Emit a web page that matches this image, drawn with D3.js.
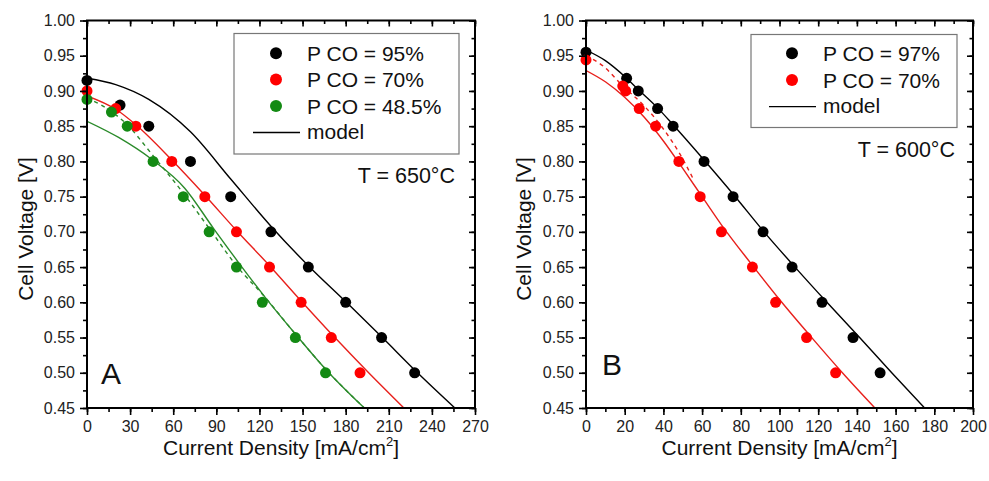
<!DOCTYPE html>
<html><head><meta charset="utf-8">
<script src="https://cdn.jsdelivr.net/npm/d3@7"></script>
<style>
body{margin:0;background:#fff}
svg{font-family:"Liberation Sans",Arial,sans-serif}
</style>
</head><body>
<svg id="chart" width="989" height="481"></svg>
<script>
// ---------- tick labels ----------
const yTicks = [0.45,0.50,0.55,0.60,0.65,0.70,0.75,0.80,0.85,0.90,0.95,1.00];
const leftXTicks = [0,30,60,90,120,150,180,210,240,270];
const rightXTicks = [0,20,40,60,80,100,120,140,160,180,200];

// ---------- Panel A (650 °C) measured points ----------
const a95I  = [0,23,43,72,100,128,154,180,205,228];
const a95V  = [0.915,0.88,0.85,0.80,0.75,0.70,0.65,0.60,0.55,0.50];
const a70I  = [0,20,34,59,82,104,127,149,170,190];
const a70V  = [0.90,0.875,0.85,0.80,0.75,0.70,0.65,0.60,0.55,0.50];
const a48I  = [0,17,28,46,67,85,104,122,145,166];
const a48V  = [0.888,0.87,0.85,0.80,0.75,0.70,0.65,0.60,0.55,0.50];
// Panel A model curves
const aM95I = [0,20,43,72,100,128,154,180,205,230,256];
const aM95V = [0.918,0.909,0.888,0.842,0.775,0.708,0.652,0.601,0.551,0.500,0.45];
const aM70I = [0,20,34,59,82,104,127,149,172,196,220.5];
const aM70V = [0.893,0.874,0.852,0.802,0.752,0.702,0.652,0.602,0.551,0.50,0.45];
const aM48I = [0,22,45,68,88,106,124,145,167,193];
const aM48V = [0.857,0.834,0.803,0.762,0.705,0.655,0.607,0.555,0.503,0.45];
const aD48I = [0,10,28,46,67,85,104,124,145,167,193];
const aD48V = [0.890,0.880,0.852,0.808,0.755,0.705,0.652,0.607,0.555,0.503,0.45];

// ---------- Panel B (600 °C) measured points ----------
const b97I  = [0,21,27,37,45,61,76,91.5,106.5,122,138,152];
const b97V  = [0.955,0.918,0.90,0.875,0.85,0.80,0.75,0.70,0.65,0.60,0.55,0.50];
const b70I  = [0,19,20.5,27.5,36,48,59,70,86,98,114,129];
const b70V  = [0.944,0.907,0.90,0.875,0.85,0.80,0.75,0.70,0.65,0.60,0.55,0.50];
// Panel B model curves
const bM97I = [0,10,21,27,37,45,61,76.5,92,108,124.5,141.4,158,175];
const bM97V = [0.958,0.943,0.918,0.902,0.876,0.852,0.802,0.752,0.70,0.65,0.60,0.55,0.50,0.45];
const bM70I = [0,10,20,30,40,50,60,70,85,100,116,132.5,149.3];
const bM70V = [0.929,0.913,0.891,0.863,0.829,0.790,0.750,0.710,0.656,0.604,0.552,0.500,0.45];
const bD70I = [0,9,19,30,40,48,56];
const bD70V = [0.950,0.935,0.907,0.879,0.846,0.813,0.772];

// ---------- styling ----------
const BLACK = "#000000", RED = "#ff0000", GREEN = "#138a13";
const LRED = "#e8201c", LGREEN = "#2b8b2b";

const zip = (I,V) => I.map((d,i)=>({i:d,v:V[i]}));

const panels = [
  {
    x0:87, x1:475, xmax:270, xTicks:leftXTicks, letter:"A", letterX:101, letterY:384,
    temp:"T = 650°C", tempX:455, tempY:183,
    legend:{x:234,y:33.5,w:225,h:120.5, mx:276, tx:307, rows:[53.3,79.5,106], lineY:132.5},
    series:[
      {name:"P CO = 95%", color:BLACK, pts:zip(a95I,a95V)},
      {name:"P CO = 70%", color:RED, pts:zip(a70I,a70V)},
      {name:"P CO = 48.5%", color:GREEN, pts:zip(a48I,a48V)}
    ],
    lines:[
      {color:BLACK, pts:zip(aM95I,aM95V)},
      {color:LRED, pts:zip(aM70I,aM70V)},
      {color:LGREEN, pts:zip(aM48I,aM48V)},
      {color:LGREEN, pts:zip(aD48I,aD48V), dash:"4,4"}
    ],
    ytitleX:33
  },
  {
    x0:586, x1:973, xmax:200, xTicks:rightXTicks, letter:"B", letterX:602, letterY:375,
    temp:"T = 600°C", tempX:955, tempY:157,
    legend:{x:751,y:34.5,w:206,h:93, mx:792, tx:823, rows:[53.3,80], lineY:106.7},
    series:[
      {name:"P CO = 97%", color:BLACK, pts:zip(b97I,b97V)},
      {name:"P CO = 70%", color:RED, pts:zip(b70I,b70V)}
    ],
    lines:[
      {color:BLACK, pts:zip(bM97I,bM97V)},
      {color:LRED, pts:zip(bM70I,bM70V)},
      {color:LRED, pts:zip(bD70I,bD70V), dash:"4,4"}
    ],
    ytitleX:531
  }
];

const svg = d3.select("#chart");
const Y0 = 20.5, Y1 = 408;

panels.forEach((p,pi) => {
  const x = d3.scaleLinear().domain([0,p.xmax]).range([p.x0,p.x1]);
  const y = d3.scaleLinear().domain([0.45,1.00]).range([Y1,Y0]);
  const g = svg.append("g");

  const clipId = "clip"+pi;
  svg.append("clipPath").attr("id",clipId).append("rect")
    .attr("x",p.x0).attr("y",Y0).attr("width",p.x1-p.x0).attr("height",Y1-Y0);

  // model lines
  const line = d3.line().x(d=>x(d.i)).y(d=>y(d.v)).curve(d3.curveMonotoneX);
  p.lines.forEach(L => {
    g.append("path").attr("d",line(L.pts)).attr("fill","none")
      .attr("stroke",L.color).attr("stroke-width",1.4)
      .attr("stroke-dasharray",L.dash||null)
      .attr("clip-path",`url(#${clipId})`);
  });

  // points
  p.series.forEach(s => {
    g.selectAll(null).data(s.pts).enter().append("circle")
      .attr("cx",d=>x(d.i)).attr("cy",d=>y(d.v)).attr("r",5.5)
      .attr("fill",s.color);
  });

  // axes
  const xMinor = d3.range(0,p.xmax+0.001,p.xTicks[1]/2);
  const yMinor = d3.range(0.45,1.0001,0.025);
  const bottom = d3.axisBottom(x).tickValues(p.xTicks).tickFormat(d3.format("d")).tickSize(7).tickPadding(6);
  const left = d3.axisLeft(y).tickValues(yTicks).tickFormat(d3.format(".2f")).tickSize(7).tickPadding(5);
  g.append("g").attr("transform",`translate(0,${Y1})`).call(bottom);
  g.append("g").attr("transform",`translate(${p.x0},0)`).call(left);
  g.append("g").attr("transform",`translate(0,${Y0})`).call(d3.axisBottom(x).tickValues(p.xTicks).tickSize(6).tickFormat(""));
  g.append("g").attr("transform",`translate(${p.x1},0)`).call(d3.axisLeft(y).tickValues(yTicks).tickSize(6).tickFormat(""));
  // minor ticks
  g.append("g").attr("transform",`translate(0,${Y1})`).call(d3.axisBottom(x).tickValues(xMinor).tickSize(4).tickFormat(""));
  g.append("g").attr("transform",`translate(0,${Y0})`).call(d3.axisBottom(x).tickValues(xMinor).tickSize(3.5).tickFormat(""));
  g.append("g").attr("transform",`translate(${p.x0},0)`).call(d3.axisLeft(y).tickValues(yMinor).tickSize(4).tickFormat(""));
  g.append("g").attr("transform",`translate(${p.x1},0)`).call(d3.axisLeft(y).tickValues(yMinor).tickSize(3.5).tickFormat(""));
  g.selectAll(".domain").remove();
  g.selectAll(".tick line").attr("stroke","#000").attr("stroke-width",1.6);
  g.selectAll(".tick text").attr("font-size",16).attr("fill","#222")
    .attr("font-family",'"Liberation Sans",Arial,sans-serif');
  // frame
  g.append("rect").attr("x",p.x0).attr("y",Y0).attr("width",p.x1-p.x0).attr("height",Y1-Y0)
    .attr("fill","none").attr("stroke","#000").attr("stroke-width",2);

  // axis titles
  const xt = g.append("text").attr("x",(p.x0+p.x1)/2).attr("y",455)
    .attr("text-anchor","middle").attr("font-size",21).attr("fill","#111");
  xt.append("tspan").text("Current Density [mA/cm");
  xt.append("tspan").text("2").attr("font-size",13).attr("dy",-9);
  xt.append("tspan").text("]").attr("dy",9);
  g.append("text").attr("transform",`translate(${p.ytitleX},229) rotate(-90)`)
    .attr("text-anchor","middle").attr("font-size",21).attr("fill","#111").text("Cell Voltage [V]");

  // panel letter and temperature
  g.append("text").attr("x",p.letterX).attr("y",p.letterY).attr("font-size",30).attr("fill","#111").text(p.letter);
  g.append("text").attr("x",p.tempX).attr("y",p.tempY).attr("text-anchor","end").attr("font-size",21.5).attr("fill","#111").text(p.temp);

  // legend
  const L = p.legend;
  g.append("rect").attr("x",L.x).attr("y",L.y).attr("width",L.w).attr("height",L.h)
    .attr("fill","#fff").attr("stroke","#777").attr("stroke-width",1.2);
  p.series.forEach((s,k) => {
    g.append("circle").attr("cx",L.mx).attr("cy",L.rows[k]).attr("r",6).attr("fill",s.color);
    g.append("text").attr("x",L.tx).attr("y",L.rows[k]+7.5).attr("font-size",21).attr("fill","#111").text(s.name);
  });
  g.append("line").attr("x1",L.mx-23).attr("x2",L.mx+24).attr("y1",L.lineY).attr("y2",L.lineY)
    .attr("stroke","#000").attr("stroke-width",1.3);
  g.append("text").attr("x",L.tx).attr("y",L.lineY+6.5).attr("font-size",21).attr("fill","#111").text("model");
});
</script>
</body></html>
